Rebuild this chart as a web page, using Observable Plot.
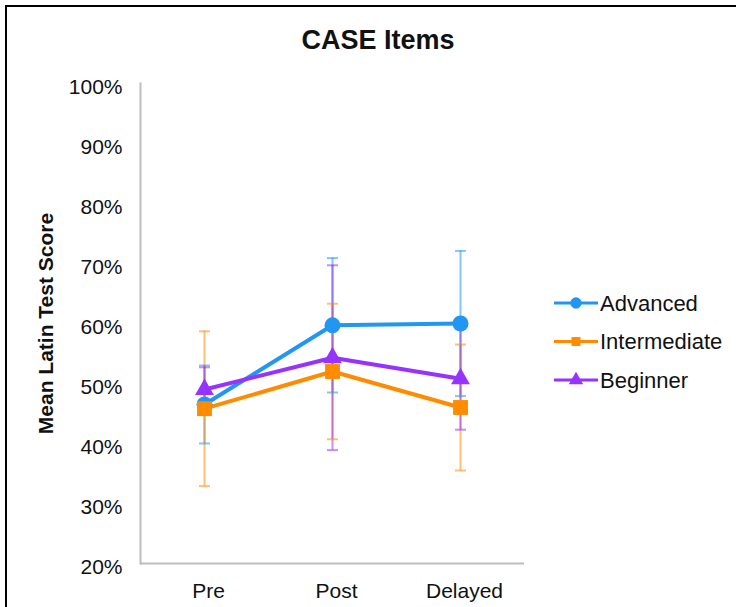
<!DOCTYPE html>
<html>
<head>
<meta charset="utf-8">
<script src="https://cdn.jsdelivr.net/npm/d3@7"></script>
<script src="https://cdn.jsdelivr.net/npm/@observablehq/plot@0.6"></script>
<style>
  html, body { margin: 0; padding: 0; background: #fff; }
  #chart { position: relative; width: 736px; height: 607px; overflow: hidden;
           font-family: "Liberation Sans", Arial, Helvetica, sans-serif; color: #111; }
  #border { position: absolute; left: 5px; top: 5px; width: 900px; height: 800px;
            border-left: 2px solid #000; border-top: 2px solid #000; box-sizing: border-box; }
  #title { position: absolute; left: 0; width: 756px; top: 25px; text-align: center;
           font-weight: bold; font-size: 27px; }
  #plot { position: absolute; left: 0; top: 0; }
  #legend { position: absolute; left: 548px; top: 283px; }
</style>
</head>
<body>
<div id="chart">
  <div id="border"></div>
  <div id="plot"></div>
  <div id="title">CASE Items</div>
  <div id="legend"></div>
</div>
<script>
// Test phases and learner groups
const phases = ["Pre", "Post", "Delayed"];
const groups = ["Advanced", "Intermediate", "Beginner"];

// Mean score per group and phase, with the half-length of each error bar
const advancedMean = [0.465, 0.597, 0.600];
const advancedErr = [0.065, 0.112, 0.121];
const intermediateMean = [0.458, 0.520, 0.460];
const intermediateErr = [0.129, 0.113, 0.105];
const beginnerMean = [0.490, 0.543, 0.508];
const beginnerErr = [0.037, 0.154, 0.085];

// Y axis tick values
const yTicks = [0.2, 0.3, 0.4, 0.5, 0.6, 0.7, 0.8, 0.9, 1.0];

const means = [advancedMean, intermediateMean, beginnerMean];
const errs = [advancedErr, intermediateErr, beginnerErr];
const rows = groups.flatMap((g, i) => phases.map((p, j) => ({
  group: g, phase: p, mean: means[i][j], err: errs[i][j]
})));

const colors = ["#2196f3", "#ff8c00", "#9633ff"];
const symbols = ["circle", "square", "triangle"];
const markerR = [8, 8.4, 7];

// short horizontal cap drawn at each end of an error bar
const cap = { draw(ctx) { ctx.moveTo(-5.5, 0); ctx.lineTo(5.5, 0); } };

const font = '"Liberation Sans", Arial, Helvetica, sans-serif';

const chart = Plot.plot({
  width: 736,
  height: 607,
  marginLeft: 140,
  marginRight: 212,
  marginTop: 83,
  marginBottom: 44,
  style: { fontFamily: font, fontSize: "21px", color: "#111", background: "transparent" },
  x: { domain: phases, type: "point", padding: 0.5 },
  y: { domain: [0.2, 1.0] },
  color: { domain: groups, range: colors },
  marks: [
    Plot.frame({ anchor: "left", stroke: "#bdbdbd", strokeWidth: 2 }),
    Plot.ruleY([0.2], { stroke: "#bdbdbd", strokeWidth: 2 }),
    Plot.axisX({ tickSize: 0, tickPadding: 20, dx: 4, fontSize: 21, label: null }),
    Plot.axisY({
      ticks: yTicks, tickFormat: d3.format(".0%"), tickSize: 0, tickPadding: 18, dy: 4,
      label: "Mean Latin Test Score", labelAnchor: "center", labelArrow: "none", labelOffset: 102
    }),
    Plot.ruleX(rows, {
      x: "phase", y1: d => d.mean - d.err, y2: d => d.mean + d.err,
      stroke: "group", strokeOpacity: 0.55, strokeWidth: 2
    }),
    Plot.dot(rows, { x: "phase", y: d => d.mean - d.err, symbol: cap, stroke: "group", strokeOpacity: 0.55, strokeWidth: 2 }),
    Plot.dot(rows, { x: "phase", y: d => d.mean + d.err, symbol: cap, stroke: "group", strokeOpacity: 0.55, strokeWidth: 2 }),
    Plot.line(rows, { x: "phase", y: "mean", z: "group", stroke: "group", strokeWidth: 4 }),
    ...groups.map((g, i) => Plot.dot(rows.filter(d => d.group === g), {
      x: "phase", y: "mean", fill: "group", symbol: symbols[i], r: markerR[i]
    }))
  ]
});
document.getElementById("plot").appendChild(chart);

// y axis label in bold
d3.select(chart).selectAll('g[aria-label="y-axis label"] text')
  .attr("font-weight", "bold").attr("font-size", 21);

// legend: line sample with marker, then group name
const lg = d3.select("#legend").append("svg")
  .attr("width", 188).attr("height", 120)
  .style("font-family", font);
const symTypes = [d3.symbolCircle, d3.symbolSquare, d3.symbolTriangle];
const symSizes = [100, 80, 90];
groups.forEach((g, i) => {
  const y = 20 + i * 38.5;
  const e = lg.append("g").attr("transform", `translate(0,${y})`);
  e.append("line").attr("x1", 6).attr("x2", 50).attr("stroke", colors[i]).attr("stroke-width", 3);
  e.append("path").attr("transform", "translate(28,0)")
    .attr("d", d3.symbol(symTypes[i], symSizes[i])()).attr("fill", colors[i]);
  e.append("text").attr("x", 52).attr("dy", "0.35em").attr("font-size", 22).attr("fill", "#111").text(g);
});
</script>
</body>
</html>
